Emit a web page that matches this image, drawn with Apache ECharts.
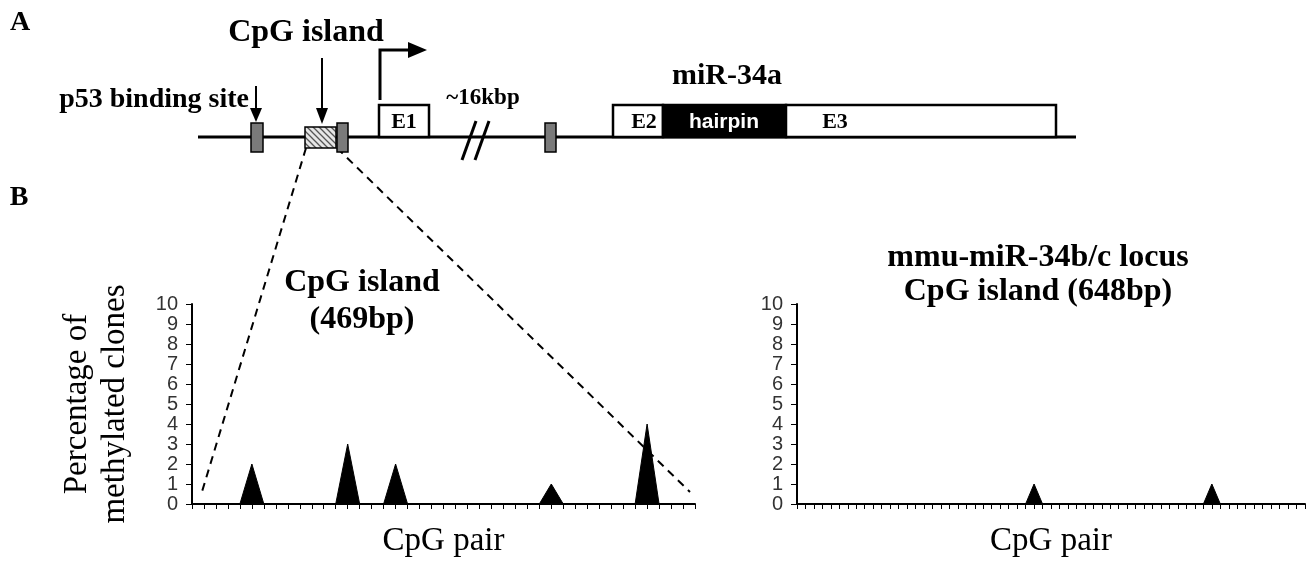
<!DOCTYPE html>
<html>
<head>
<meta charset="utf-8">
<script src="https://cdn.jsdelivr.net/npm/echarts@6/dist/echarts.min.js"></script>
<style>
  html, body { margin: 0; padding: 0; background: #fff; }
  #main { width: 1314px; height: 561px; }
</style>
</head>
<body>
<div id="main"></div>
<script>
// CpG pairs along each island (hidden tick labels)
var leftPairs = [];
for (var i = 1; i <= 43; i++) leftPairs.push(String(i));
var rightPairs = [];
for (var j = 1; j <= 61; j++) rightPairs.push(String(j));

// percentage of methylated clones per CpG pair
var leftValues = [0, 0, 0, 0, 0, 2, 0, 0, 0, 0, 0, 0, 0, 3, 0, 0, 0, 2, 0, 0,
                  0, 0, 0, 0, 0, 0, 0, 0, 0, 0, 1, 0, 0, 0, 0, 0, 0, 0, 4, 0,
                  0, 0, 0];
var rightValues = [0, 0, 0, 0, 0, 0, 0, 0, 0, 0, 0, 0, 0, 0, 0, 0, 0, 0, 0, 0,
                   0, 0, 0, 0, 0, 0, 0, 0, 1, 0, 0, 0, 0, 0, 0, 0, 0, 0, 0, 0,
                   0, 0, 0, 0, 0, 0, 0, 0, 0, 1, 0, 0, 0, 0, 0, 0, 0, 0, 0, 0,
                   0];

var serif = "'Liberation Serif', 'Times New Roman', serif";
var sans = "'Liberation Sans', Arial, sans-serif";

// hatch for the CpG island box
var hatch = document.createElement('canvas');
hatch.width = 6; hatch.height = 6;
var hc = hatch.getContext('2d');
hc.fillStyle = '#e6e6e6';
hc.fillRect(0, 0, 6, 6);
hc.strokeStyle = '#555';
hc.lineWidth = 1.3;
hc.beginPath();
hc.moveTo(-3, 3); hc.lineTo(3, 9);
hc.moveTo(0, 0); hc.lineTo(6, 6);
hc.moveTo(3, -3); hc.lineTo(9, 3);
hc.stroke();

function txt(x, y, s, size, opts) {
	opts = opts || {};
	return {
		type : 'text', x : x, y : y, z : 10,
		style : {
			text : s,
			font : (opts.weight || 'bold') + ' ' + size + 'px ' + (opts.family || serif),
			fill : opts.color || '#000',
			align : opts.align || 'center',
			verticalAlign : 'middle'
		}
	};
}
function rect(x, y, w, h, fill, lw) {
	return {
		type : 'rect', z : 5,
		shape : { x : x, y : y, width : w, height : h },
		style : { fill : fill, stroke : '#000', lineWidth : lw || 1.5 }
	};
}
function seg(x1, y1, x2, y2, lw, dash) {
	return {
		type : 'line', z : 4,
		shape : { x1 : x1, y1 : y1, x2 : x2, y2 : y2 },
		style : { stroke : '#000', lineWidth : lw, lineDash : dash || null }
	};
}
function tri(points) {
	return { type : 'polygon', z : 6, shape : { points : points }, style : { fill : '#000' } };
}

var graphics = [
	txt(20, 23, 'A', 28),
	txt(19, 198, 'B', 28),
	// gene line
	seg(198, 137, 1076, 137, 3),
	rect(251, 123, 12, 29, '#7a7a7a'),
	rect(305, 127, 31, 21, { image : hatch, repeat : 'repeat' }),
	rect(337, 123, 11, 29, '#7a7a7a'),
	rect(545, 123, 11, 29, '#7a7a7a'),
	rect(379, 105, 50, 32, '#fff', 2.5),
	txt(404, 122, 'E1', 22),
	// transcription start arrow
	{ type : 'polyline', z : 4, shape : { points : [[380, 100], [380, 50], [410, 50]] },
	  style : { stroke : '#000', lineWidth : 3, fill : null } },
	tri([[408, 42], [427, 50], [408, 58]]),
	txt(483, 98, '~16kbp', 23),
	seg(462, 160, 476, 121, 3),
	seg(475, 160, 489, 121, 3),
	// miR-34a host exons
	rect(613, 105, 50, 32, '#fff', 2.5),
	rect(663, 105, 123, 32, '#000', 2.5),
	rect(786, 105, 270, 32, '#fff', 2.5),
	txt(644, 122, 'E2', 22),
	txt(724, 122, 'hairpin', 21, { family : sans, color : '#fff' }),
	txt(835, 122, 'E3', 22),
	txt(727, 76, 'miR-34a', 30),
	// labels with arrows
	txt(306, 33, 'CpG island', 32),
	seg(322, 58, 322, 112, 2),
	tri([[316, 108], [328, 108], [322, 124]]),
	txt(249, 100, 'p53 binding site', 28, { align : 'right' }),
	seg(256, 86, 256, 112, 2),
	tri([[250, 108], [262, 108], [256, 122]]),
	// zoom lines
	seg(306, 148, 201, 495, 2, [8, 6]),
	seg(337, 148, 690, 492, 2, [8, 6]),
	// panel titles
	txt(362, 283, 'CpG island', 32),
	txt(362, 320, '(469bp)', 32),
	txt(1038, 258, 'mmu-miR-34b/c locus', 32),
	txt(1038, 292, 'CpG island (648bp)', 32)
];

function xAxisFor(idx, cats) {
	return {
		type : 'category', gridIndex : idx, data : cats, boundaryGap : false,
		name : 'CpG pair', nameLocation : 'middle', nameGap : 21,
		nameTextStyle : { fontFamily : serif, fontSize : 33, color : '#000' },
		axisLine : { lineStyle : { color : '#000', width : 2 } },
		axisTick : { interval : 0, length : 5, lineStyle : { color : '#000', width : 1 } },
		axisLabel : { show : false },
		splitLine : { show : false }
	};
}
function yAxisFor(idx, named) {
	return {
		type : 'value', gridIndex : idx, min : 0, max : 10, interval : 1,
		name : named ? 'Percentage of\nmethylated clones' : '',
		nameLocation : 'middle', nameRotate : 90, nameGap : 58,
		nameTextStyle : { fontFamily : serif, fontSize : 33, color : '#000', lineHeight : 38 },
		axisLine : { show : true, lineStyle : { color : '#000', width : 2 } },
		axisTick : { show : true, length : 6, lineStyle : { color : '#000', width : 1 } },
		axisLabel : { margin : 14, fontFamily : sans, fontSize : 20, color : '#333' },
		splitLine : { show : false }
	};
}

var myChart = echarts.init(document.getElementById('main'));
myChart.setOption({
	backgroundColor : '#fff',
	animation : false,
	grid : [
		{ left : 192, top : 304, width : 503, height : 200 },
		{ left : 797, top : 304, width : 508, height : 200 }
	],
	xAxis : [ xAxisFor(0, leftPairs), xAxisFor(1, rightPairs) ],
	yAxis : [ yAxisFor(0, true), yAxisFor(1, false) ],
	series : [ {
		name : 'miR-34a CpG island',
		type : 'line', xAxisIndex : 0, yAxisIndex : 0,
		symbol : 'none',
		lineStyle : { color : '#000', width : 1 },
		areaStyle : { color : '#000', opacity : 1 },
		data : leftValues
	}, {
		name : 'miR-34b/c CpG island',
		type : 'line', xAxisIndex : 1, yAxisIndex : 1,
		symbol : 'none',
		lineStyle : { color : '#000', width : 1 },
		areaStyle : { color : '#000', opacity : 1 },
		data : rightValues
	} ],
	graphic : graphics
});
</script>
</body>
</html>
